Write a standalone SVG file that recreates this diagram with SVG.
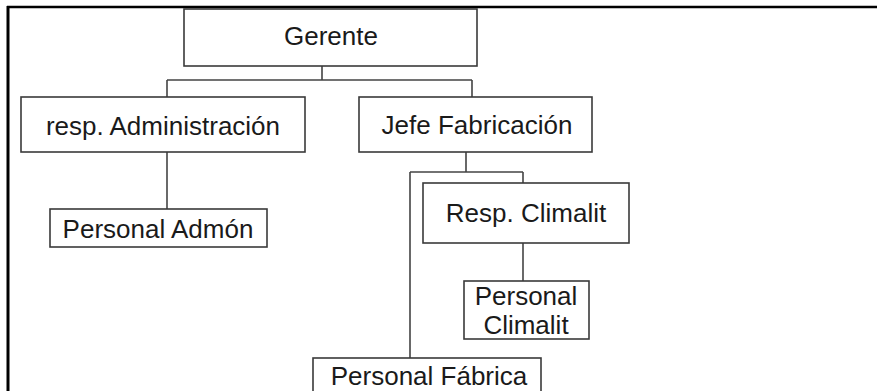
<svg xmlns="http://www.w3.org/2000/svg" width="877" height="391" viewBox="0 0 877 391">
<style>
.box{fill:#fff;stroke:#3a3a3a;stroke-width:1.6}
.lbl{font-family:"Liberation Sans",Arial,sans-serif;font-size:26px;fill:#1a1a1a;text-anchor:middle}
.ln{fill:none;stroke:#444;stroke-width:1.6}
</style>
<rect width="877" height="391" fill="#fff"/>
<g id="frame">
<line x1="7" y1="7" x2="877" y2="7" stroke="#000" stroke-width="2.5"/>
<line x1="8" y1="6" x2="8" y2="391" stroke="#000" stroke-width="3"/>
</g>
<g id="connectors">
<path class="ln" d="M322 66V80M167 80H472M167 80V97M472 80V97"/>
<path class="ln" d="M167 152V209"/>
<path class="ln" d="M466 152V172M410 172H523M523 172V183M410 172V358"/>
<path class="ln" d="M523 243V281"/>
</g>
<g id="gerente"><rect class="box" x="184" y="9" width="293" height="57"/><text class="lbl" x="331" y="45">Gerente</text></g>
<g id="resp-admin"><rect class="box" x="21" y="97" width="284" height="55"/><text class="lbl" x="163" y="135">resp. Administración</text></g>
<g id="jefe-fab"><rect class="box" x="359" y="97" width="233" height="55"/><text class="lbl" x="477" y="134">Jefe Fabricación</text></g>
<g id="personal-admon"><rect class="box" x="50" y="209" width="217" height="38"/><text class="lbl" x="158" y="238">Personal Admón</text></g>
<g id="resp-climalit"><rect class="box" x="423" y="183" width="206" height="60"/><text class="lbl" x="526" y="222">Resp. Climalit</text></g>
<g id="personal-climalit"><rect class="box" x="464" y="281" width="125" height="58"/><text class="lbl" x="526" y="305">Personal</text><text class="lbl" x="526" y="334">Climalit</text></g>
<g id="personal-fabrica"><rect class="box" x="313" y="358" width="228" height="40"/><text class="lbl" x="429" y="385">Personal Fábrica</text></g>
</svg>
